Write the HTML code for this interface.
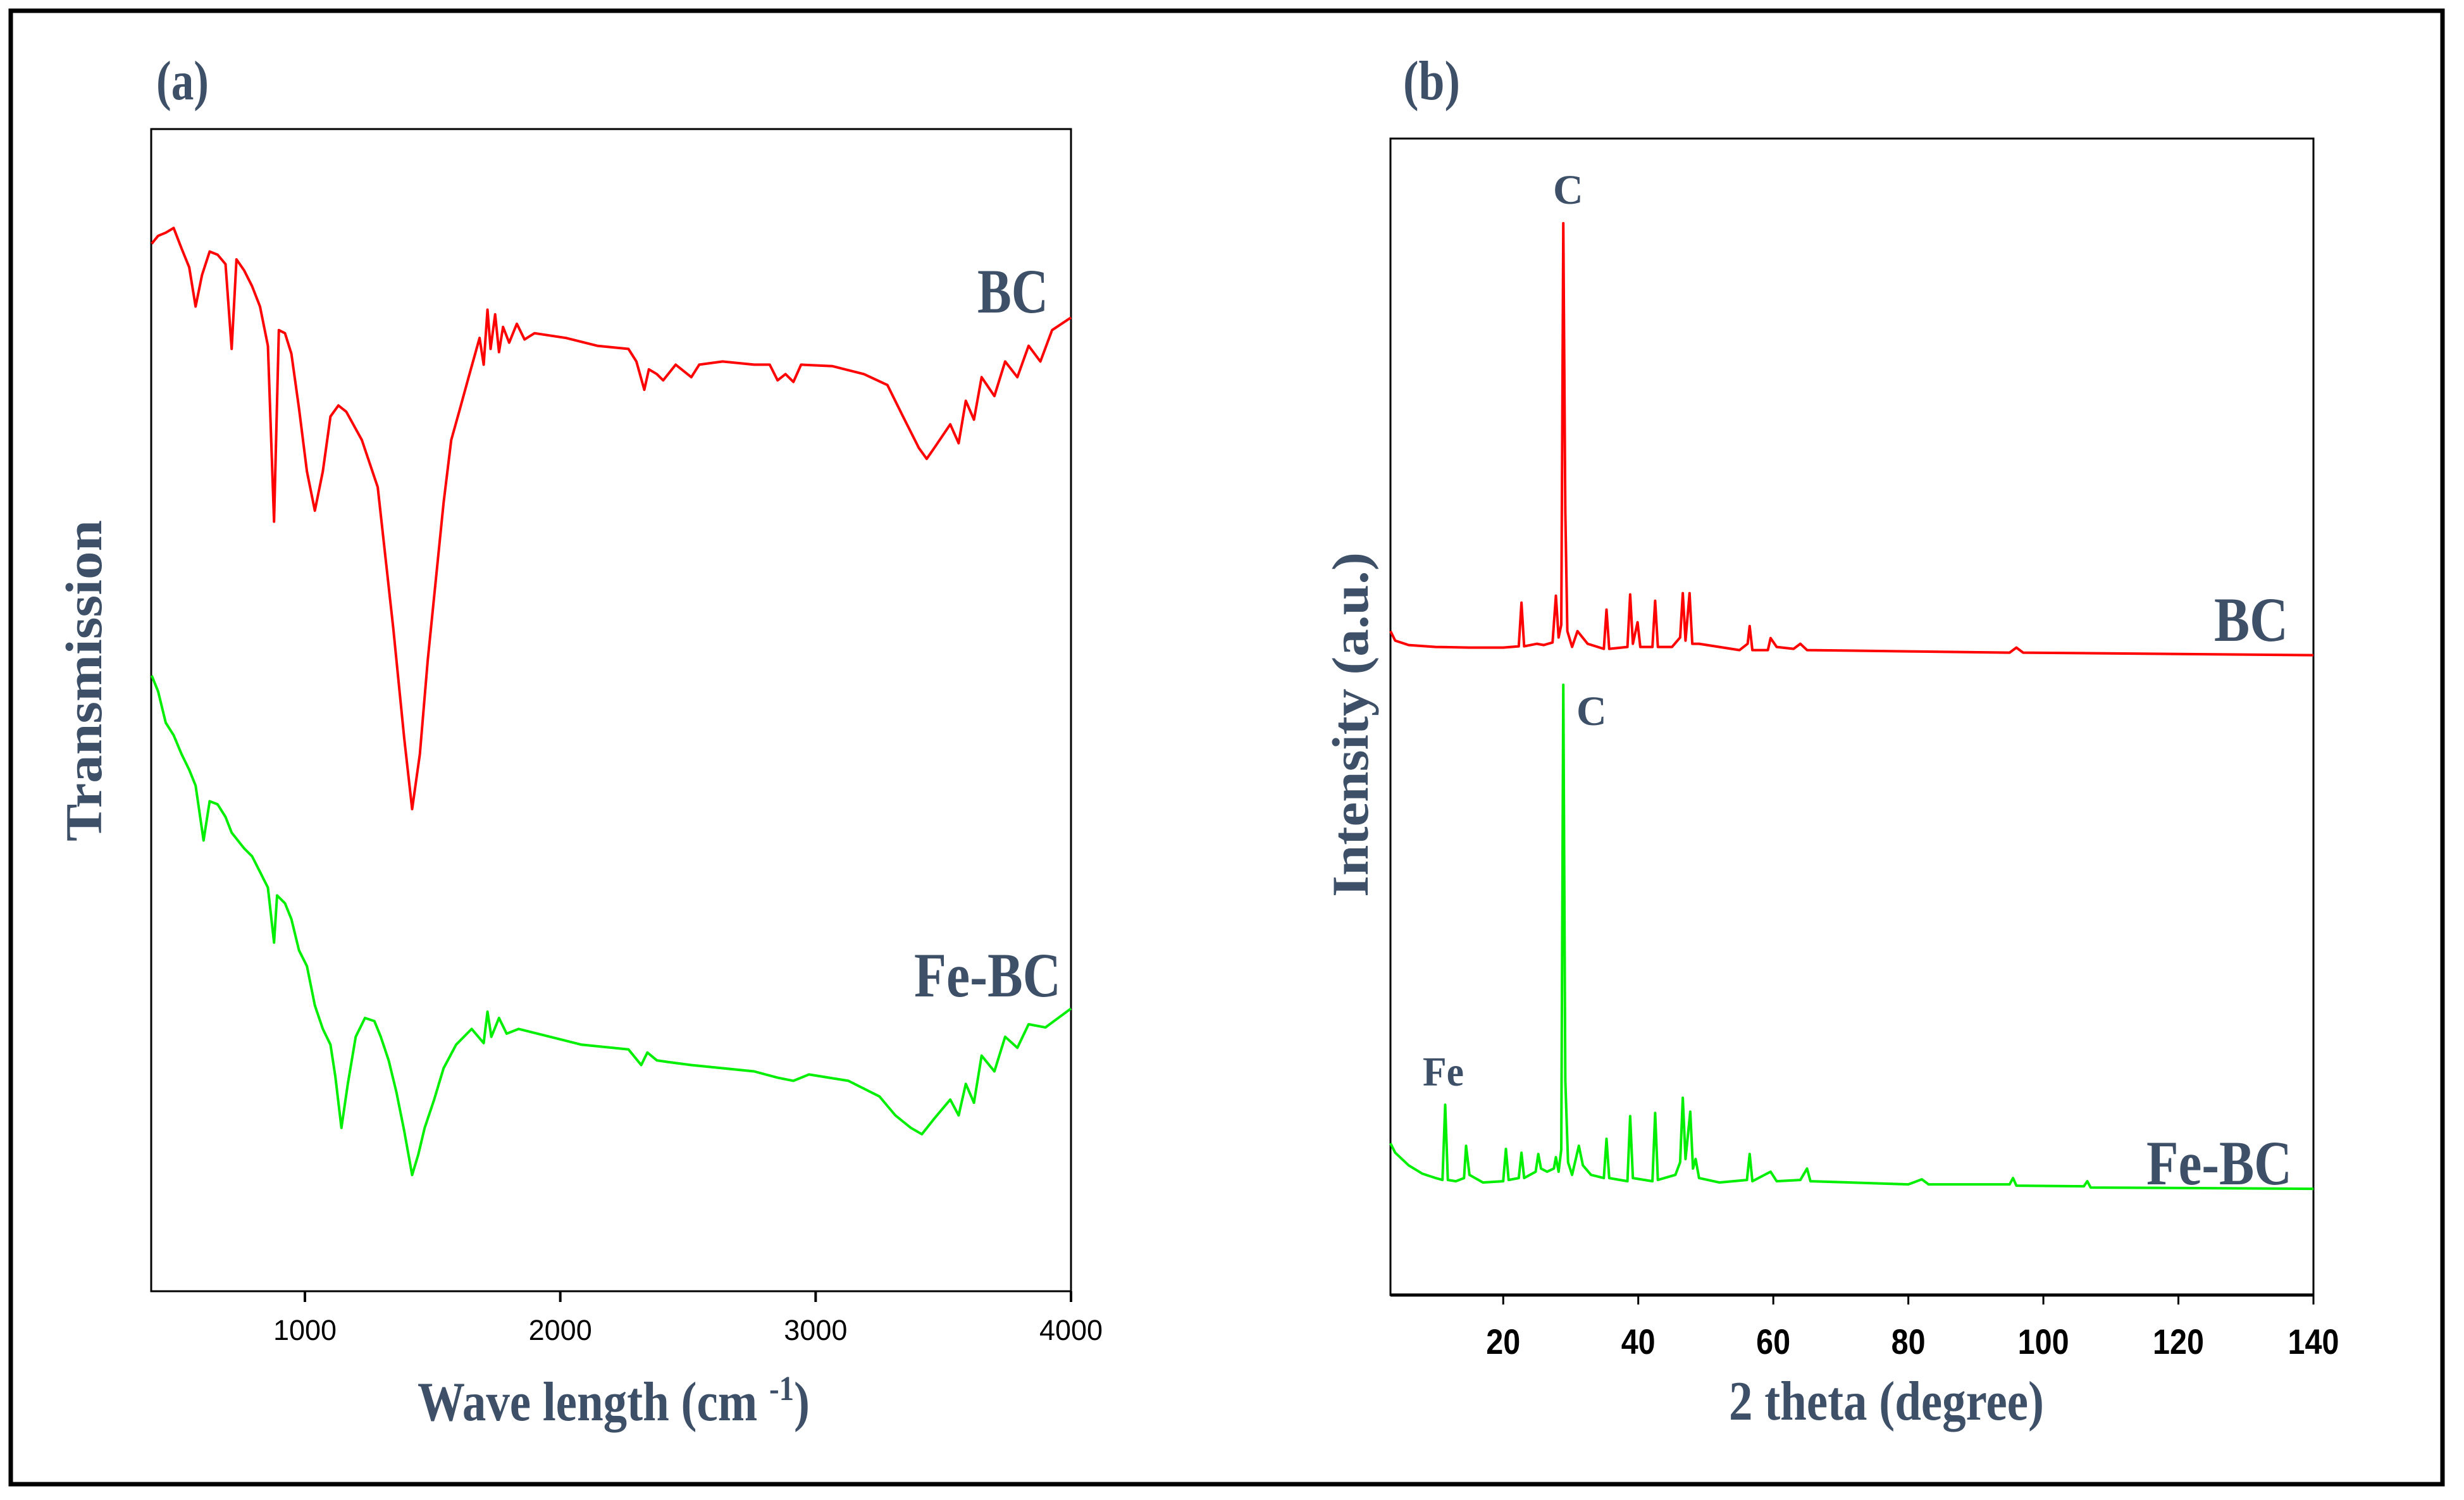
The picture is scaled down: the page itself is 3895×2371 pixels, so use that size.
<!DOCTYPE html>
<html><head><meta charset="utf-8"><style>
html,body{margin:0;padding:0;background:#fff}
svg{display:block}
.lab{font-family:"Liberation Serif",serif;font-weight:bold;fill:#3d5068}
.tk{font-family:"Liberation Sans",sans-serif;fill:#000}
</style></head><body>
<svg id="fig" width="3895" height="2371" viewBox="0 0 3895 2371" xmlns="http://www.w3.org/2000/svg">
<rect x="17" y="17" width="3844" height="2329" fill="none" stroke="#000" stroke-width="7"/>
<g id="pa"></g>
<g id="pb"></g>
<text class="lab" x="247" y="157" font-size="88" textLength="83" lengthAdjust="spacingAndGlyphs">(a)</text>
<text class="lab" x="2218" y="157" font-size="88" textLength="90" lengthAdjust="spacingAndGlyphs">(b)</text>
<text class="lab" x="1545" y="494" font-size="100" textLength="112" lengthAdjust="spacingAndGlyphs">BC</text>
<text class="lab" x="1445" y="1575" font-size="100" textLength="232" lengthAdjust="spacingAndGlyphs">Fe-BC</text>
<text class="lab" transform="translate(160,1330) rotate(-90)" font-size="82" textLength="508" lengthAdjust="spacingAndGlyphs">Transmission</text>
<text class="lab" x="660" y="2245" font-size="88" textLength="620" lengthAdjust="spacingAndGlyphs">Wave length (cm <tspan font-size="55" dy="-32">-1</tspan><tspan dy="32">)</tspan></text>
<text class="lab" x="3500" y="1013" font-size="100" textLength="117" lengthAdjust="spacingAndGlyphs">BC</text>
<text class="lab" x="3393" y="1872" font-size="100" textLength="230" lengthAdjust="spacingAndGlyphs">Fe-BC</text>
<text class="lab" x="2455" y="322" font-size="66">C</text>
<text class="lab" x="2492" y="1146" font-size="66">C</text>
<text class="lab" x="2249" y="1716" font-size="66" textLength="65" lengthAdjust="spacingAndGlyphs">Fe</text>
<text class="lab" transform="translate(2162,1418) rotate(-90)" font-size="82" textLength="545" lengthAdjust="spacingAndGlyphs">Intensity (a.u.)</text>
<text class="lab" x="2733" y="2244" font-size="88" textLength="498" lengthAdjust="spacingAndGlyphs">2 theta (degree)</text>
</svg>
<script>
// FTIR data (wavenumber cm-1, transmission a.u.)
var ftirBcWn=[400,425,455,486,517,547,572,597,627,658,689,713,732,762,793,824,855,879,898,922,947,977,1008,1039,1070,1100,1131,1162,1223,1285,1346,1389,1420,1450,1481,1512,1543,1573,1604,1641,1684,1700,1715,1727,1745,1760,1776,1800,1830,1860,1899,2022,2145,2267,2298,2329,2347,2378,2403,2452,2513,2544,2636,2759,2820,2851,2882,2913,2943,3066,3189,3281,3342,3404,3435,3465,3527,3560,3588,3620,3650,3700,3742,3790,3834,3880,3926,4000];
var ftirBcT=[667,672,674,677,664,652,627,647,662,660,654,600,657,650,640,627,602,490,612,610,597,562,522,497,522,557,564,560,542,512,422,352,307,342,402,452,502,542,560,582,607,590,625,600,622,598,614,604,616,606,610,607,602,600,592,574,587,584,580,590,582,590,592,590,590,580,584,579,590,589,584,577,557,537,530,537,552,540,567,555,582,570,592,582,602,592,612,620];
var ftirFeWn=[400,425,455,486,517,547,572,603,627,658,689,713,762,793,824,855,879,891,922,947,977,1008,1039,1070,1100,1119,1143,1168,1199,1235,1272,1297,1328,1358,1389,1420,1444,1469,1506,1543,1592,1653,1700,1715,1730,1760,1790,1837,1960,2083,2267,2317,2341,2378,2421,2513,2636,2759,2851,2913,2974,3128,3250,3312,3373,3416,3465,3527,3560,3588,3620,3650,3700,3742,3790,3834,3900,4000];
var ftirFeT=[392,382,362,354,342,332,322,287,312,310,302,292,282,277,267,257,222,252,247,237,217,207,182,167,157,137,104,132,162,174,172,162,147,127,102,74,87,104,122,142,157,167,158,178,162,174,164,167,162,157,154,144,152,147,146,144,142,140,136,134,138,134,124,112,104,100,110,122,112,132,120,150,140,162,155,170,168,180];
var ftirTicks=[1000,2000,3000,4000];
// XRD data (2theta degree, intensity a.u.)
var xrdBcDeg=[3.3,4,6,10,15,20,22.3,22.7,23.1,25,26,27.3,27.8,28.2,28.6,28.9,29.2,29.5,30.2,31,32.5,34.9,35.3,35.7,38.4,38.8,39.2,39.9,40.3,42.1,42.5,42.9,45,46.2,46.6,47.0,47.6,48.0,49,55,56.2,56.5,56.9,59.2,59.6,60.5,63,64,65,80,95,96,97,140];
var xrdBcI=[1050,1035,1028,1025,1024,1024,1026,1095,1026,1030,1028,1032,1106,1040,1060,1695,1239,1050,1025,1050,1030,1022,1084,1022,1025,1108,1030,1064,1025,1025,1098,1025,1025,1040,1110,1035,1110,1030,1030,1020,1030,1058,1020,1020,1039,1025,1022,1030,1020,1018,1016,1024,1016,1012];
var xrdFeDeg=[3.3,4,6,8,10,11.0,11.4,11.8,13,14.2,14.5,15,17,20,20.4,20.8,22.3,22.7,23.1,24.8,25.2,25.6,26.5,27.5,27.8,28.2,28.6,28.9,29.2,29.6,30.2,31.2,31.8,33,34.9,35.3,35.7,38.4,38.8,39.2,42.1,42.5,42.9,45.5,46.2,46.6,47.0,47.7,48.1,48.5,49,52,56.1,56.5,56.9,59.6,60.5,64,65,65.5,80,82,83,95,95.5,96,106,106.5,107,140];
var xrdFeI=[240,225,205,192,185,182,301,182,180,185,236,190,178,180,231,182,185,225,185,195,223,200,195,200,218,195,230,965,339,210,190,236,205,190,185,247,185,180,283,185,180,288,182,190,210,312,215,290,200,215,185,178,182,223,180,195,180,182,200,180,175,183,175,175,185,173,172,180,170,168];
var xrdTicks=[20,40,60,80,100,120,140];

var NS='http://www.w3.org/2000/svg';
function mk(tag,parent,attrs){var e=document.createElementNS(NS,tag);for(var k in attrs)e.setAttribute(k,attrs[k]);parent.appendChild(e);return e;}
var A={l:239,r:1693,t:204,b:2041,x0:398,x1:4000,y0:0,y1:740};
function ax(v){return A.l+(v-A.x0)/(A.x1-A.x0)*(A.r-A.l);}
function ay(v){return A.b-(v-A.y0)/(A.y1-A.y0)*(A.b-A.t);}
var B={l:2198,r:3657,t:219,b:2047,x0:3.3,x1:140,y0:0,y1:1829};
function bx(v){return B.l+(v-B.x0)/(B.x1-B.x0)*(B.r-B.l);}
function by(v){return B.b-(v-B.y0)/(B.y1-B.y0)*(B.b-B.t);}
function path(xs,ys,fx,fy){var d='';for(var i=0;i<xs.length;i++)d+=(i?'L':'M')+fx(xs[i]).toFixed(1)+' '+fy(ys[i]).toFixed(1);return d;}
var pa=document.getElementById('pa'),pb=document.getElementById('pb');
var fa=mk('rect',pa,{x:A.l,y:A.t,width:A.r-A.l,height:A.b-A.t,fill:'none',stroke:'#000','stroke-width':3});


var l1=mk('path',pa,{d:path(ftirBcWn,ftirBcT,ax,ay),fill:'none',stroke:'#ff0000','stroke-width':4,'stroke-linejoin':'round'});


var l2=mk('path',pa,{d:path(ftirFeWn,ftirFeT,ax,ay),fill:'none',stroke:'#00ee00','stroke-width':4,'stroke-linejoin':'round'});


ftirTicks.forEach(function(t){
  var tl=mk('line',pa,{x1:ax(t),x2:ax(t),y1:A.b,y2:A.b+17,stroke:'#000','stroke-width':4});
  
  
  var tx=mk('text',pa,{x:ax(t),y:2118,'font-size':45,'text-anchor':'middle','class':'tk'});
  tx.textContent=t;
  
  
});
var fb=mk('rect',pb,{x:B.l,y:B.t,width:B.r-B.l,height:B.b-B.t,fill:'none',stroke:'#000','stroke-width':3});


var bl=mk('line',pb,{x1:B.l,x2:B.r,y1:B.b,y2:B.b,stroke:'#000','stroke-width':5});


var l3=mk('path',pb,{d:path(xrdBcDeg,xrdBcI,bx,by),fill:'none',stroke:'#ff0000','stroke-width':4,'stroke-linejoin':'round'});


var l4=mk('path',pb,{d:path(xrdFeDeg,xrdFeI,bx,by),fill:'none',stroke:'#00ee00','stroke-width':4,'stroke-linejoin':'round'});


xrdTicks.forEach(function(t){
  var tl=mk('line',pb,{x1:bx(t),x2:bx(t),y1:B.b,y2:B.b+15,stroke:'#000','stroke-width':3});
  
  
  var s=String(t);
  var tx=mk('text',pb,{x:bx(t),y:2140,'font-size':56,'font-weight':'bold','text-anchor':'middle','class':'tk',textLength:s.length*27,lengthAdjust:'spacingAndGlyphs'});
  tx.textContent=s;
  
  
});
</script>
</body></html>
